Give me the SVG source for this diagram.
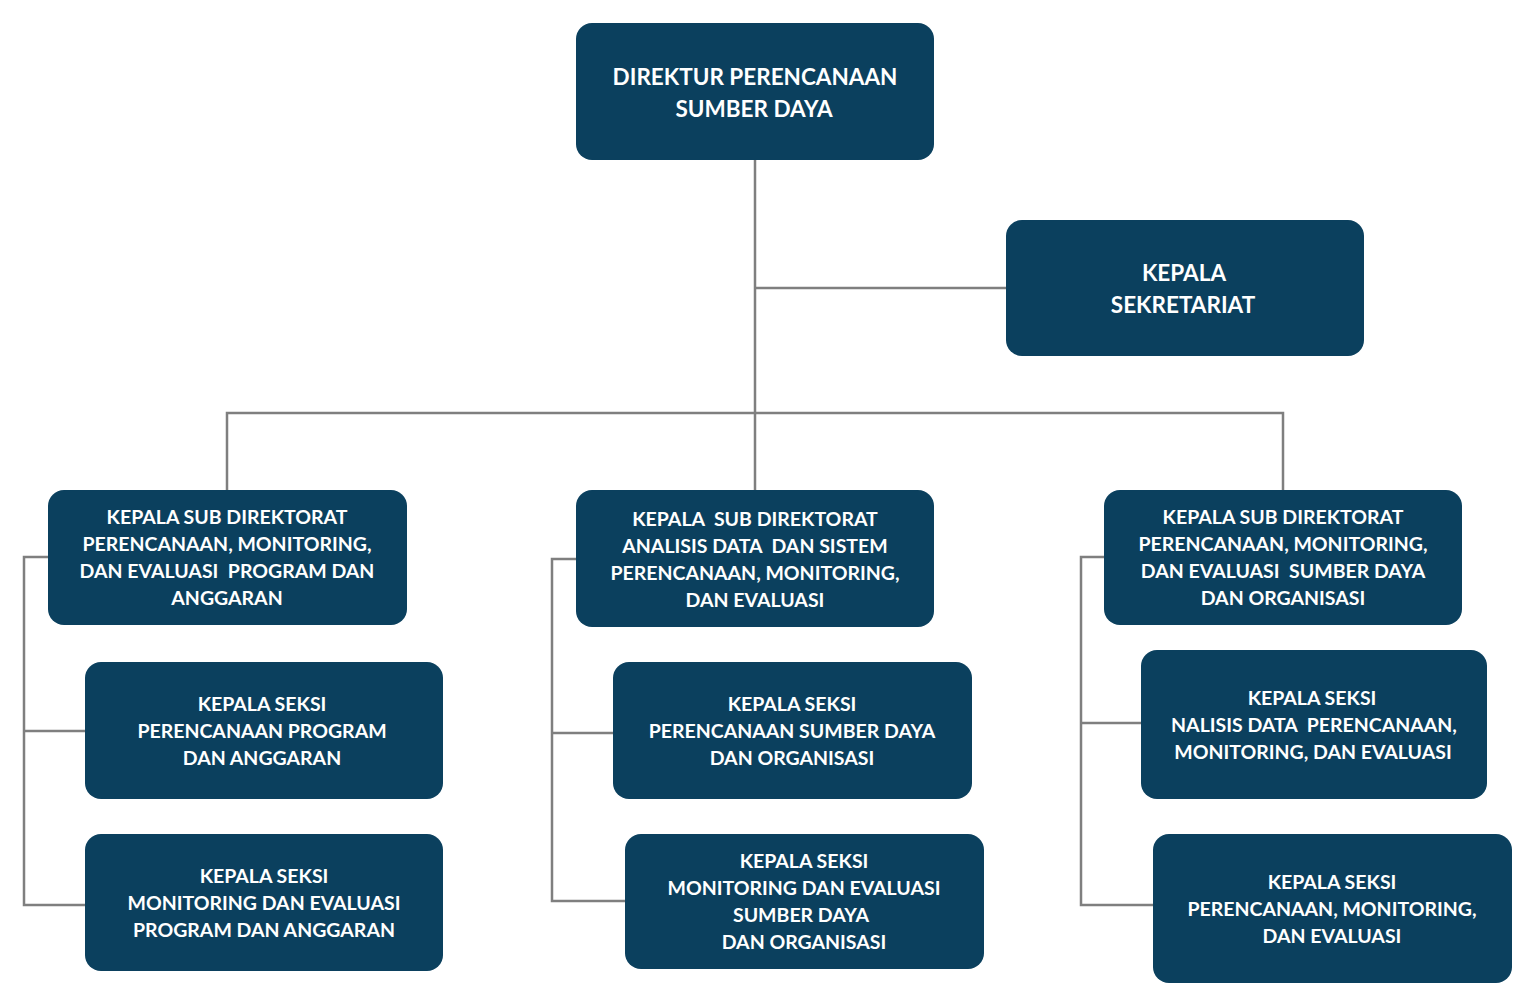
<svg xmlns="http://www.w3.org/2000/svg" width="1536" height="1008" viewBox="0 0 1536 1008">
<style>
.box{fill:#0b405e;}
.t{font-family:Lato,"Liberation Sans",sans-serif;font-weight:bold;fill:#ffffff;text-anchor:middle;font-size:19.5px;white-space:pre;}
.big{font-size:22.5px;}
.c{stroke:#7f7f7f;stroke-width:2.5;fill:none;}
</style>
<rect width="1536" height="1008" fill="#ffffff"/>
<g id="connectors">
<path class="c" d="M755 160V490M755 288H1006M227 490V413H1283V490"/>
<path class="c" d="M48 557H24V905H85M24 731H85"/>
<path class="c" d="M576 559H552V901H625M552 733H613"/>
<path class="c" d="M1104 557H1081V905H1153M1081 723H1141"/>
</g>
<g id="direktur">
<rect class="box" x="576" y="23" width="358" height="137" rx="16"/>
<text class="t big" x="755" y="85">DIREKTUR PERENCANAAN</text>
<text class="t big" x="754" y="117">SUMBER DAYA</text>
</g>
<g id="sekretariat">
<rect class="box" x="1006" y="220" width="358" height="136" rx="16"/>
<text class="t big" x="1184" y="281">KEPALA</text>
<text class="t big" x="1183" y="313">SEKRETARIAT</text>
</g>
<g id="subdit-program">
<rect class="box" x="48" y="490" width="359" height="135" rx="16"/>
<text class="t" x="227" y="524">KEPALA SUB DIREKTORAT</text>
<text class="t" x="227" y="551">PERENCANAAN, MONITORING,</text>
<text class="t" x="227" y="578">DAN EVALUASI  PROGRAM DAN</text>
<text class="t" x="227" y="605">ANGGARAN</text>
</g>
<g id="subdit-analisis">
<rect class="box" x="576" y="490" width="358" height="137" rx="16"/>
<text class="t" x="755" y="526">KEPALA  SUB DIREKTORAT</text>
<text class="t" x="755" y="553">ANALISIS DATA  DAN SISTEM</text>
<text class="t" x="755" y="580">PERENCANAAN, MONITORING,</text>
<text class="t" x="755" y="607">DAN EVALUASI</text>
</g>
<g id="subdit-sdo">
<rect class="box" x="1104" y="490" width="358" height="135" rx="16"/>
<text class="t" x="1283" y="524">KEPALA SUB DIREKTORAT</text>
<text class="t" x="1283" y="551">PERENCANAAN, MONITORING,</text>
<text class="t" x="1283" y="578">DAN EVALUASI  SUMBER DAYA</text>
<text class="t" x="1283" y="605">DAN ORGANISASI</text>
</g>
<g id="seksi-perencanaan-program">
<rect class="box" x="85" y="662" width="358" height="137" rx="16"/>
<text class="t" x="262" y="711">KEPALA SEKSI</text>
<text class="t" x="262" y="738">PERENCANAAN PROGRAM</text>
<text class="t" x="262" y="765">DAN ANGGARAN</text>
</g>
<g id="seksi-monev-program">
<rect class="box" x="85" y="834" width="358" height="137" rx="16"/>
<text class="t" x="264" y="883">KEPALA SEKSI</text>
<text class="t" x="264" y="910">MONITORING DAN EVALUASI</text>
<text class="t" x="264" y="937">PROGRAM DAN ANGGARAN</text>
</g>
<g id="seksi-perencanaan-sdo">
<rect class="box" x="613" y="662" width="359" height="137" rx="16"/>
<text class="t" x="792" y="711">KEPALA SEKSI</text>
<text class="t" x="792" y="738">PERENCANAAN SUMBER DAYA</text>
<text class="t" x="792" y="765">DAN ORGANISASI</text>
</g>
<g id="seksi-monev-sdo">
<rect class="box" x="625" y="834" width="359" height="135" rx="16"/>
<text class="t" x="804" y="868">KEPALA SEKSI</text>
<text class="t" x="804" y="895">MONITORING DAN EVALUASI</text>
<text class="t" x="801" y="922">SUMBER DAYA</text>
<text class="t" x="804" y="949">DAN ORGANISASI</text>
</g>
<g id="seksi-analisis">
<rect class="box" x="1141" y="650" width="346" height="149" rx="16"/>
<text class="t" x="1312" y="705">KEPALA SEKSI</text>
<text class="t" x="1314" y="732">NALISIS DATA  PERENCANAAN,</text>
<text class="t" x="1313" y="759">MONITORING, DAN EVALUASI</text>
</g>
<g id="seksi-pme">
<rect class="box" x="1153" y="834" width="359" height="149" rx="16"/>
<text class="t" x="1332" y="889">KEPALA SEKSI</text>
<text class="t" x="1332" y="916">PERENCANAAN, MONITORING,</text>
<text class="t" x="1332" y="943">DAN EVALUASI</text>
</g>
</svg>
